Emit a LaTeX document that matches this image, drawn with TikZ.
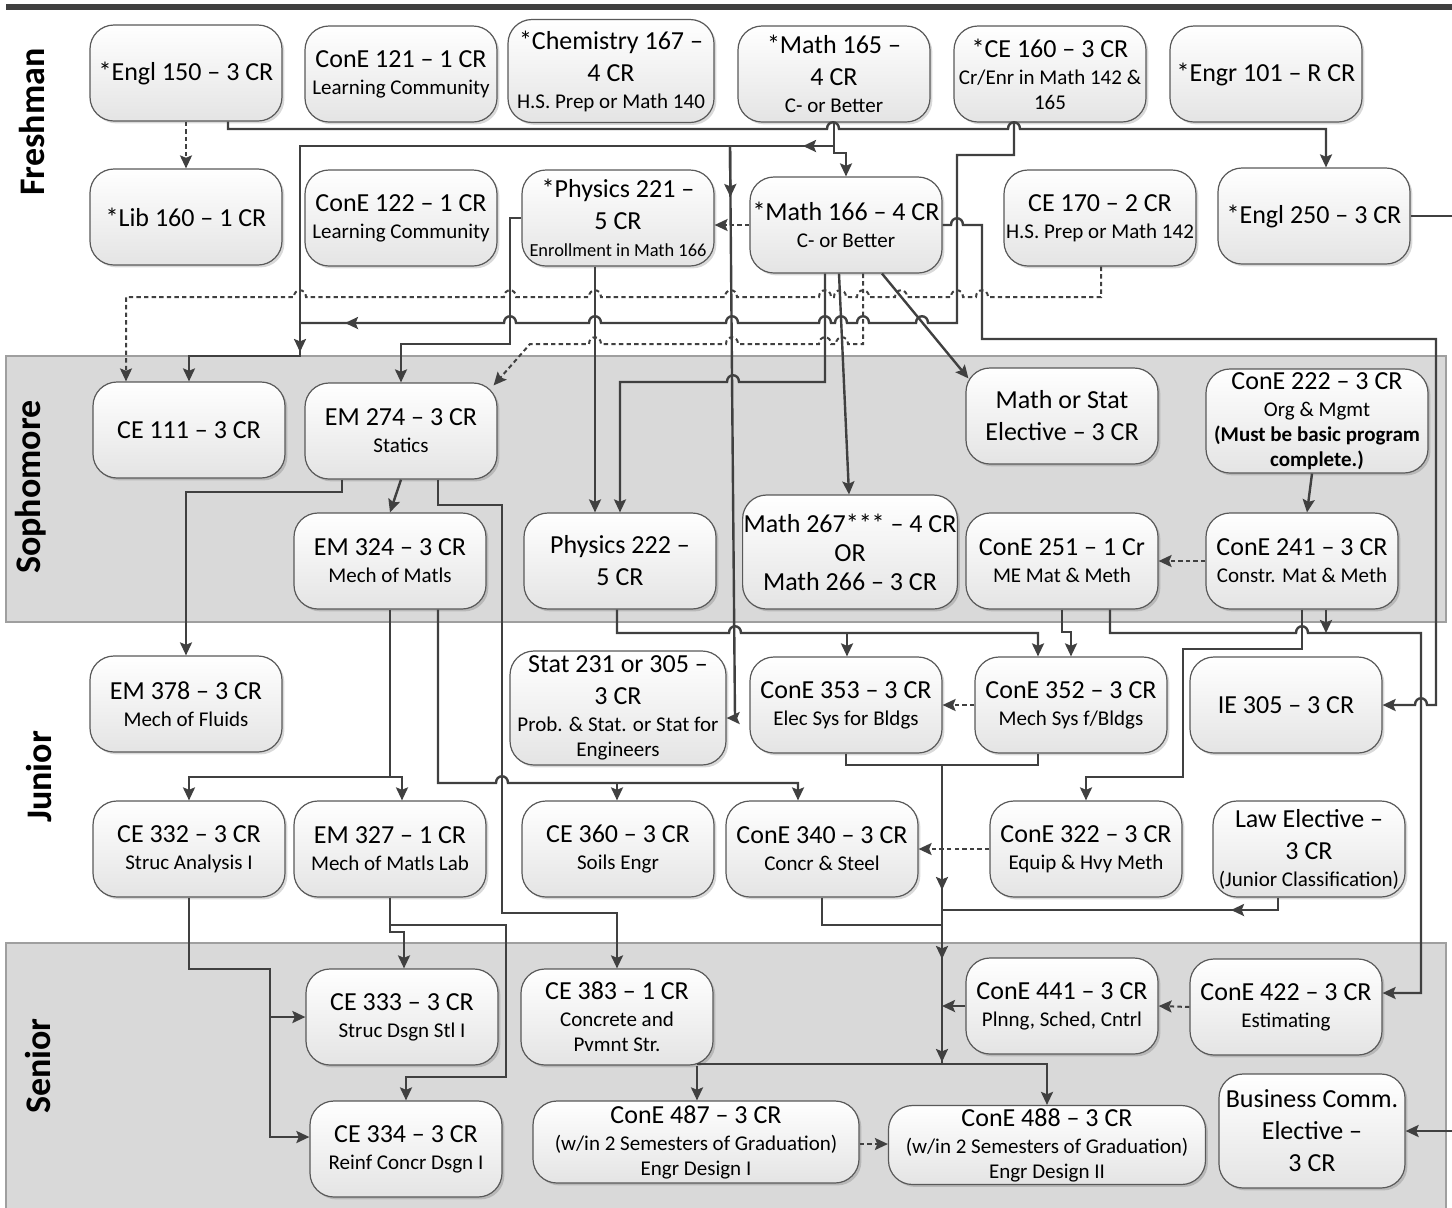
\documentclass[tikz,border=0pt]{standalone}
\usepackage{fontspec}
\setmainfont{Carlito}
\usetikzlibrary{arrows.meta,shadows,calc}

\definecolor{linec}{HTML}{404040}
\definecolor{bandc}{HTML}{D9D9D9}
\definecolor{boxshade}{HTML}{E4E4E4}
\definecolor{boxline}{HTML}{595959}

\newcommand{\crsub}[1]{{\fontsize{10.5}{12.5}\selectfont #1}}
\newcommand{\hopr}[2]{-- (#1-6,#2) .. controls (#1-6,#2-9) and (#1+6,#2-9) .. (#1+6,#2)}
\newcommand{\hopl}[2]{-- (#1+6,#2) .. controls (#1+6,#2-9) and (#1-6,#2-9) .. (#1-6,#2)}

\begin{document}
\begin{tikzpicture}[x=0.5pt, y=-0.5pt,
	course/.style={draw=boxline, line width=0.6pt, rounded corners=12pt, top color=white, bottom color=boxshade,
		drop shadow={shadow xshift=1.2pt, shadow yshift=-1.2pt, fill=black, opacity=0.15},
		minimum width=96pt, minimum height=48pt, inner sep=0.5pt, align=center, font=\fontsize{13}{16}\selectfont},
	year/.style={rotate=90, font=\bfseries\fontsize{18}{18}\selectfont},
	link/.style={draw=linec, line width=1.2pt},
	dlink/.style={draw=linec, line width=1pt, dash pattern=on 2.2pt off 1.6pt},
	arr/.style={-{Stealth[length=6.5pt, width=6pt, inset=1.2pt]}}]
		\useasboundingbox (0,0) rectangle (1452,1207);
		
		% BANDS AND TOP BAR
		\fill[linec] (6,4) rectangle (1452,10);
		\filldraw[fill=bandc, draw=gray!75, line width=0.6pt] (6,356) rectangle (1446,622);
		\filldraw[fill=bandc, draw=gray!75, line width=0.6pt] (6,943) rectangle (1446,1215);
		
		% WRITE THE YEARS
		\node[year] (fresh) at (32,122) {Freshman};
		\node[year] (soph) at (31,487) {Sophomore};
		\node[year] (jun) at (39,777) {Junior};
		\node[year] (sen) at (38,1066) {Senior};
		
		% FRESHMAN COURSES
		\node[course] (engl150) at (186,73) {*Engl 150 – 3 CR};
		\node[course] (cone121) at (401,74) {ConE 121 – 1 CR\\[-2.5pt]\crsub{Learning Community}};
		\node[course, minimum width=103pt, minimum height=51.5pt] (chem167) at (611,71) {*Chemistry 167 –\\4 CR\\[-2.5pt]\crsub{H.S. Prep or Math 140}};
		\node[course] (math165) at (834,74) {*Math 165 –\\4 CR\\[-2.5pt]\crsub{C- or Better}};
		\node[course] (ce160) at (1050,74) {*CE 160 – 3 CR\\[-2.5pt]\crsub{Cr/Enr in Math 142 \&}\\[-3.5pt]\crsub{165}};
		\node[course] (engr101) at (1266,74) {*Engr 101 – R CR};
		
		\node[course] (lib160) at (186,217) {*Lib 160 – 1 CR};
		\node[course] (cone122) at (401,218) {ConE 122 – 1 CR\\[-2.5pt]\crsub{Learning Community}};
		\node[course] (phys221) at (618,218) {*Physics 221 –\\5 CR\\[-2.5pt]{\fontsize{9.2}{11}\selectfont Enrollment in Math 166}};
		\node[course] (math166) at (846,225) {*Math 166 – 4 CR\\[-2.5pt]\crsub{C- or Better}};
		\node[course] (ce170) at (1100,218) {CE 170 – 2 CR\\[-2.5pt]\crsub{H.S. Prep or Math 142}};
		\node[course] (engl250) at (1314,216) {*Engl 250 – 3 CR};
		
		% SOPHOMORE COURSES
		\node[course] (ce111) at (189,430) {CE 111 – 3 CR};
		\node[course] (em274) at (401,431) {EM 274 – 3 CR\\[-2.5pt]\crsub{Statics}};
		\node[course] (mathstat) at (1062,416) {Math or Stat\\Elective – 3 CR};
		\node[course, minimum width=111pt, minimum height=52pt] (cone222) at (1317,421) {ConE 222 – 3 CR\\[-2.5pt]\crsub{Org \& Mgmt}\\[-3.5pt]\crsub{\bfseries (Must be basic program}\\[-3.5pt]\crsub{\bfseries complete.)}};
		
		\node[course] (em324) at (390,561) {EM 324 – 3 CR\\[-2.5pt]\crsub{Mech of Matls}};
		\node[course] (phys222) at (620,561) {Physics 222 –\\5 CR};
		\node[course, minimum width=100.5pt, minimum height=57pt] (math267) at (850,552) {Math 267*** – 4 CR\\[-1.5pt]OR\\[-1.5pt]Math 266 – 3 CR};
		\node[course] (cone251) at (1062,561) {ConE 251 – 1 Cr\\[-2.5pt]\crsub{ME Mat \& Meth}};
		\node[course] (cone241) at (1302,561) {ConE 241 – 3 CR\\[-2.5pt]\crsub{Constr. Mat \& Meth}};
		
		% JUNIOR COURSES
		\node[course] (em378) at (186,704) {EM 378 – 3 CR\\[-2.5pt]\crsub{Mech of Fluids}};
		\node[course, minimum width=108pt, minimum height=57pt] (stat231) at (618,708) {Stat 231 or 305 –\\3 CR\\[-2.5pt]\crsub{Prob. \& Stat. or Stat for}\\[-3.5pt]\crsub{Engineers}};
		\node[course] (cone353) at (846,705) {ConE 353 – 3 CR\\[-2.5pt]\crsub{Elec Sys for Bldgs}};
		\node[course] (cone352) at (1071,705) {ConE 352 – 3 CR\\[-2.5pt]\crsub{Mech Sys f/Bldgs}};
		\node[course] (ie305) at (1286,705) {IE 305 – 3 CR};
		
		\node[course] (ce332) at (189,849) {CE 332 – 3 CR\\[-2.5pt]\crsub{Struc Analysis I}};
		\node[course] (em327) at (390,849) {EM 327 – 1 CR\\[-2.5pt]\crsub{Mech of Matls Lab}};
		\node[course] (ce360) at (618,849) {CE 360 – 3 CR\\[-2.5pt]\crsub{Soils Engr}};
		\node[course] (cone340) at (822,849) {ConE 340 – 3 CR\\[-2.5pt]\crsub{Concr \& Steel}};
		\node[course] (cone322) at (1086,849) {ConE 322 – 3 CR\\[-2.5pt]\crsub{Equip \& Hvy Meth}};
		\node[course] (law) at (1309,849) {Law Elective –\\3 CR\\[-2.5pt]\crsub{(Junior Classification)}};
		
		% SENIOR COURSES
		\node[course] (ce333) at (402,1017) {CE 333 – 3 CR\\[-2.5pt]\crsub{Struc Dsgn Stl I}};
		\node[course] (ce383) at (617,1017) {CE 383 – 1 CR\\[-2.5pt]\crsub{Concrete and}\\[-3.5pt]\crsub{Pvmnt Str.}};
		\node[course] (cone441) at (1062,1006) {ConE 441 – 3 CR\\[-2.5pt]\crsub{Plnng, Sched, Cntrl}};
		\node[course] (cone422) at (1286,1007) {ConE 422 – 3 CR\\[-2.5pt]\crsub{Estimating}};
		
		\node[course] (ce334) at (406,1149) {CE 334 – 3 CR\\[-2.5pt]\crsub{Reinf Concr Dsgn I}};
		\node[course, minimum width=163pt, minimum height=41pt] (cone487) at (696,1142) {ConE 487 – 3 CR\\[-2.5pt]\crsub{(w/in 2 Semesters of Graduation)}\\[-3.5pt]\crsub{Engr Design I}};
		\node[course, minimum width=158.5pt, minimum height=39.5pt] (cone488) at (1047,1145) {ConE 488 – 3 CR\\[-2.5pt]\crsub{(w/in 2 Semesters of Graduation)}\\[-3.5pt]\crsub{Engr Design II}};
		\node[course, minimum width=93pt, minimum height=57pt] (buscomm) at (1312,1131) {Business Comm.\\Elective –\\3 CR};
		
		% FREE ENDS AT THE RIGHT EDGE
		\coordinate (edgea) at (1452,216);
		\coordinate (edgeb) at (1452,1131);
		
		% FRESHMAN CONNECTORS
		\draw[dlink, arr] (engl150) -- (lib160);
		\draw[link, arr] (engl150.south -| 228,0) -- (228,129) \hopr{833}{129} \hopr{1014}{129} -- (1326,129) -- (engl250.north -| 1326,0);
		\draw[link, arr] (math165.south) -- (834,153) -- (846,153) -- (math166.north -| 846,0);
		\draw[link, arr] (math165.south) -- (834,146) -- (300,146) -- (300,356) -- (189,356) -- (ce111.north -| 189,0);
		\draw[link, arr] (834,146) -- (803,146);
		\draw[link, arr] (300,323) -- (300,352);
		\draw[link, arr] (730,146) -- (735,718) -- (stat231.east |- 0,718);
		\draw[link, arr] (730,146) -- (730.4,197);
		\draw[link] (ce160.south -| 1014,0) -- (1014,155) -- (957,155) -- (957,323) \hopl{922}{323} \hopl{863}{323} \hopl{841}{323} \hopl{825}{323} \hopl{732}{323} \hopl{595}{323} \hopl{510}{323} -- (300,323);
		\draw[link, arr] (380,323) -- (345,323);
		\draw[dlink, arr] (ce170.south -| 1101,0) -- (1101,297) \hopl{982}{297} \hopl{957}{297} \hopl{901}{297} \hopl{863}{297} \hopl{840}{297} \hopl{825}{297} \hopl{731}{297} \hopl{595}{297} \hopl{510}{297} \hopl{300}{297} -- (126,297) -- (ce111.north -| 126,0);
		\draw[link, arr] (phys221.west) -- (510,218) -- (510,344) -- (401,344) -- (em274.north);
		\draw[dlink, arr] (math166.south -| 863,0) -- (863,344) \hopl{842}{344} \hopl{825}{344} \hopl{732}{344} \hopl{595}{344} -- (530,344) -- ($(em274.north east)+(-4,3)$);
		\draw[link, arr] (math166.south -| 825,0) -- (825,382) \hopl{733}{382} -- (620,382) -- (phys222.north);
		\draw[link, arr] (math166.south -| 839,0) -- (math267.north -| 849,0);
		\draw[link, arr] (math166.south -| 882,0) -- ($(mathstat.north west)+(3,11)$);
		\draw[dlink, arr] (math166.west) -- (phys221.east |- 0,225);
		\draw[link, arr] (math166.east) \hopr{957}{225} -- (982,225) -- (982,339) -- (1436,339) -- (1436,705) \hopl{1421}{705} -- (ie305.east);
		\draw[link, arr] (phys221.south -| 595,0) -- (phys222.north -| 595,0);
		\draw[link] (engl250.east) -- (edgea);
		
		% SOPHOMORE CONNECTORS
		\draw[link, arr] (em274.south -| 342,0) -- (342,492) -- (186,492) -- (em378.north);
		\draw[link, arr] (em274.south) -- (em324.north);
		\draw[link, arr] (em274.south -| 438,0) -- (438,505) -- (502,505) -- (502,913) -- (617,913) -- (ce383.north);
		\draw[link, arr] (cone222.south -| 1312,0) -- (cone241.north -| 1307,0);
		\draw[dlink, arr] (cone241.west) -- (cone251.east);
		\draw[link, arr] (cone251.south -| 1110,0) -- (1110,633) \hopr{1302}{633} -- (1421,633) -- (1421,993) -- (cone422.east |- 0,993);
		\draw[link, arr] (cone241.south -| 1326,0) -- (1326,633);
		\draw[link, arr] (cone241.south -| 1302,0) -- (1302,649) -- (1183,649) -- (1183,777) -- (1086,777) -- (cone322.north);
		\draw[link, arr] (cone251.south -| 1062,0) -- (1062,632) -- (1071,632) -- (cone352.north);
		\draw[link, arr] (phys222.south -| 617,0) -- (617,633) \hopr{735}{633} -- (1038,633) -- (cone352.north -| 1038,0);
		\draw[link, arr] (847,633) -- (cone353.north -| 847,0);
		\draw[link, arr] (em324.south) -- (390,777) -- (189,777) -- (ce332.north);
		\draw[link, arr] (390,777) -- (402,777) -- (em327.north -| 402,0);
		\draw[link, arr] (em324.south -| 438,0) -- (438,783) \hopr{502}{783} -- (798,783) -- (cone340.north -| 798,0);
		\draw[link, arr] (617,783) -- (ce360.north -| 617,0);
		
		% JUNIOR CONNECTORS
		\draw[dlink, arr] (cone352.west) -- (cone353.east);
		\draw[dlink, arr] (cone322.west) -- (cone340.east);
		\draw[link] (cone353.south) -- (846,765) -- (1038,765) -- (cone352.south -| 1038,0);
		\draw[link] (942,765) -- (942,1064);
		\draw[link, arr] (942,850) -- (942,890);
		\draw[link, arr] (942,925) -- (942,959);
		\draw[link, arr] (942,1010) -- (942,1062);
		\draw[link] (cone340.south -| 822,0) -- (822,925) -- (942,925);
		\draw[link] (law.south -| 1278,0) -- (1278,910) -- (942,910);
		\draw[link, arr] (1278,910) -- (1231,910);
		\draw[link, arr] (ce332.south) -- (189,969) -- (270,969) -- (270,1137) -- (ce334.west |- 0,1137);
		\draw[link, arr] (270,1017) -- (ce333.west);
		\draw[link, arr] (em327.south) -- (390,932) -- (404,932) -- (ce333.north -| 404,0);
		\draw[link, arr] (em327.south) -- (390,925) -- (506,925) -- (506,1077) -- (406,1077) -- (ce334.north);
		
		% SENIOR CONNECTORS
		\draw[link, arr] (cone441.west) -- (942,1006);
		\draw[dlink, arr] (cone422.west) -- (cone441.east);
		\draw[link] (942,1064) -- (697,1064);
		\draw[link, arr] (ce383.south -| 697,0) -- (cone487.north -| 697,0);
		\draw[link, arr] (942,1064) -- (1047,1064) -- (cone488.north);
		\draw[dlink, arr] (cone487.east |- 0,1144) -- (cone488.west |- 0,1144);
		\draw[link, arr] (edgeb) -- (buscomm.east);
	\end{tikzpicture}
\end{document}
